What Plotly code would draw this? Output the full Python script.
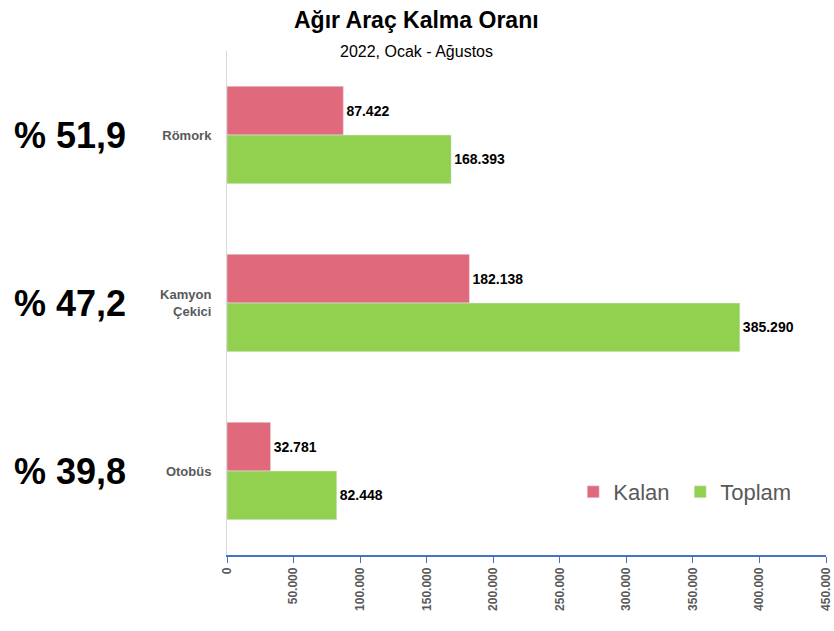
import plotly.graph_objects as go

categories = ["Römork", "Kamyon<br>Çekici", "Otobüs"]
kalan = [87422, 182138, 32781]
toplam = [168393, 385290, 82448]
oran_labels = ["% 51,9", "% 47,2", "% 39,8"]
x_ticks = [0, 50000, 100000, 150000, 200000, 250000, 300000, 350000, 400000, 450000]
title_text = "Ağır Araç Kalma Oranı"
subtitle_text = "2022, Ocak - Ağustos"

RED = "#E0697B"
GREEN = "#92D050"
FONT = "Liberation Sans, Arial, sans-serif"

fig = go.Figure()
fig.add_trace(go.Bar(
    y=categories, x=kalan, name="Kalan", orientation="h",
    marker=dict(color=RED),
    texttemplate="%{x:,d}", textposition="outside",
    textfont=dict(family=FONT, size=14, color="#000000", weight="bold"),
    cliponaxis=False, legend="legend",
))
fig.add_trace(go.Bar(
    y=categories, x=toplam, name="Toplam", orientation="h",
    marker=dict(color=GREEN),
    texttemplate="%{x:,d}", textposition="outside",
    textfont=dict(family=FONT, size=14, color="#000000", weight="bold"),
    cliponaxis=False, legend="legend2",
))

for cat, lab in zip(categories, oran_labels):
    fig.add_annotation(
        x=-0.165, xref="paper", y=cat, yref="y", text=lab, showarrow=False,
        xanchor="right", yanchor="middle",
        font=dict(family=FONT, size=36, color="#000000", weight="bold"),
    )

fig.add_annotation(
    x=0.317, xref="paper", y=1.0615, yref="paper", text=title_text,
    showarrow=False, xanchor="center", yanchor="middle",
    font=dict(family=FONT, size=23, color="#000000", weight="bold"),
)
fig.add_annotation(
    x=0.317, xref="paper", y=1.0, yref="paper", text=subtitle_text,
    showarrow=False, xanchor="center", yanchor="middle",
    font=dict(family=FONT, size=16, color="#000000"),
)

legend_style = dict(
    orientation="h", y=0.125, xanchor="left", yanchor="middle",
    font=dict(family=FONT, size=22, color="#595959"),
    bgcolor="rgba(0,0,0,0)", itemwidth=30,
)

fig.update_layout(
    width=834, height=631,
    margin=dict(l=227, r=8, t=51, b=76),
    paper_bgcolor="white", plot_bgcolor="white",
    barmode="group", bargap=0.42, bargroupgap=0,
    separators=",.",
    font=dict(family=FONT),
    showlegend=True,
    legend=dict(x=0.578, **legend_style),
    legend2=dict(x=0.7566, **legend_style),
    xaxis=dict(
        range=[0, 450000], tickvals=x_ticks, tickformat=",d", tickangle=-90,
        showgrid=False, zeroline=False, automargin=False,
        showline=True, linecolor="#4472C4", linewidth=1.5,
        ticks="outside", ticklen=6, tickcolor="#4472C4", tickwidth=1,
        tickfont=dict(family=FONT, size=12, color="#595959", weight="bold"),
    ),
    yaxis=dict(
        autorange="reversed", showgrid=False, zeroline=False, automargin=False,
        showline=True, linecolor="#D9D9D9", linewidth=1,
        ticks="", ticklabelstandoff=12,
        tickfont=dict(family=FONT, size=13, color="#595959", weight="bold"),
    ),
)

fig.write_html("out.html", config={"displayModeBar": False},
               post_script="document.body.style.margin='0px';")
